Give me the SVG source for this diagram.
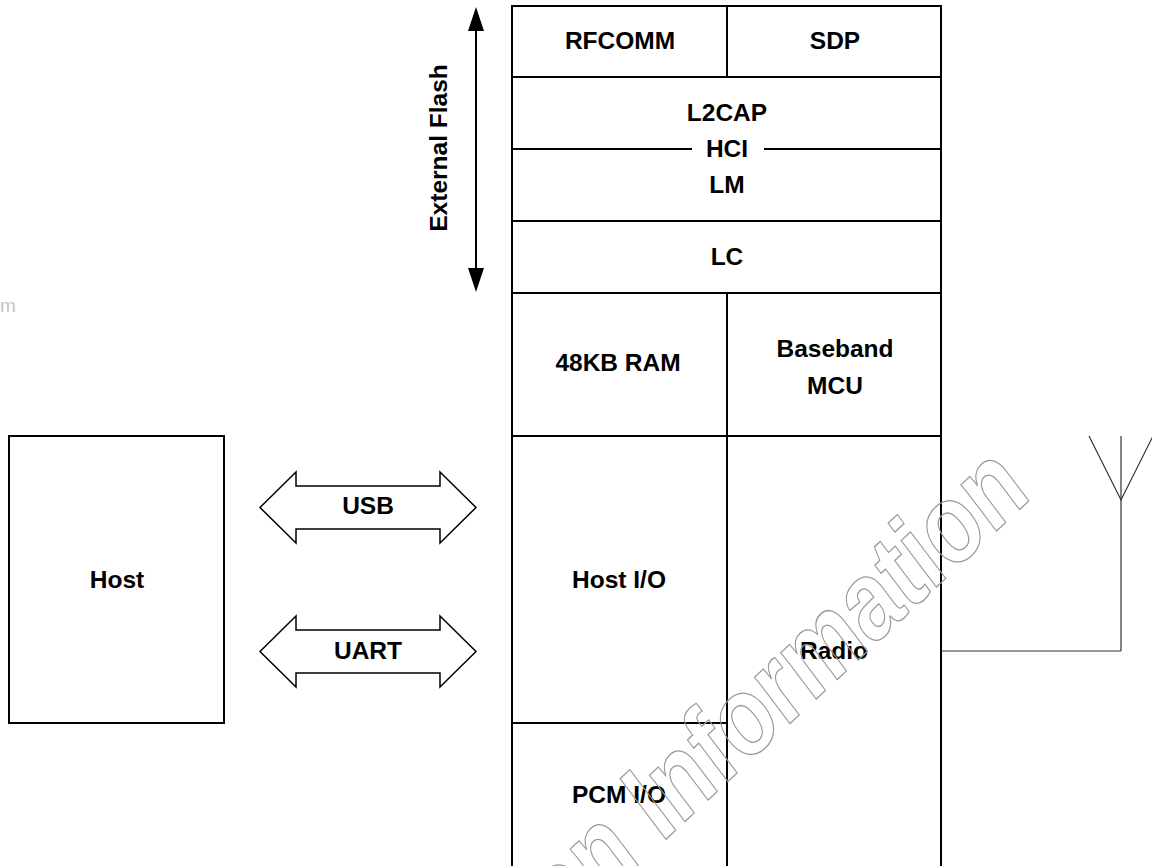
<svg xmlns="http://www.w3.org/2000/svg" width="1152" height="866" viewBox="0 0 1152 866">
<style>
  .cell { fill: #ffffff; stroke: #000000; stroke-width: 2; }
  .lbl { font-family: "Liberation Sans", Arial, sans-serif; font-weight: bold; font-size: 24.5px; fill: #000000; text-anchor: middle; }
  .bus { fill: #ffffff; stroke: #000000; stroke-width: 1.5; stroke-linejoin: miter; }
  .thin { fill: none; stroke: #333333; stroke-width: 1.2; }
  .wm { font-family: "Liberation Sans", Arial, sans-serif; font-weight: bold; font-size: 110px; fill: none; stroke: #9a9a9a; stroke-width: 1.3; text-anchor: end; }
</style>
<rect x="0" y="0" width="1152" height="866" fill="#ffffff"/>

<text x="0" y="312" font-family="Liberation Sans, Arial, sans-serif" font-size="19" fill="#c4c4c4">m</text>

<g id="host">
  <rect class="cell" x="9" y="436" width="215" height="287"/>
  <text class="lbl" x="117" y="588">Host</text>
</g>

<g id="usb">
  <polygon class="bus" points="260,507.5 296,472 296,486 440,486 440,472 476,507.5 440,543 440,529 296,529 296,543"/>
  <text class="lbl" x="368" y="514">USB</text>
</g>

<g id="uart">
  <polygon class="bus" points="260,651.5 296,616 296,630 440,630 440,616 476,651.5 440,687 440,673 296,673 296,687"/>
  <text class="lbl" x="368" y="659">UART</text>
</g>

<g id="rfcomm">
  <rect class="cell" x="512" y="6" width="215" height="71"/>
  <text class="lbl" x="620" y="49">RFCOMM</text>
</g>
<g id="sdp">
  <rect class="cell" x="727" y="6" width="214" height="71"/>
  <text class="lbl" x="835" y="49">SDP</text>
</g>
<g id="l2cap-hci-lm">
  <rect class="cell" x="512" y="77" width="429" height="144"/>
  <line x1="512" y1="149" x2="692" y2="149" stroke="#000" stroke-width="2"/>
  <line x1="764" y1="149" x2="941" y2="149" stroke="#000" stroke-width="2"/>
  <text class="lbl" x="727" y="121">L2CAP</text>
  <text class="lbl" x="727" y="157">HCI</text>
  <text class="lbl" x="727" y="193">LM</text>
</g>
<g id="lc">
  <rect class="cell" x="512" y="221" width="429" height="72"/>
  <text class="lbl" x="727" y="265">LC</text>
</g>
<g id="ram">
  <rect class="cell" x="512" y="293" width="215" height="143"/>
  <text class="lbl" x="618" y="371">48KB RAM</text>
</g>
<g id="mcu">
  <rect class="cell" x="727" y="293" width="214" height="143"/>
  <text class="lbl" x="835" y="357">Baseband</text>
  <text class="lbl" x="835" y="394">MCU</text>
</g>
<g id="host-io">
  <rect class="cell" x="512" y="436" width="215" height="287"/>
  <text class="lbl" x="619" y="588">Host I/O</text>
</g>
<g id="pcm-io">
  <rect class="cell" x="512" y="723" width="215" height="150"/>
  <text class="lbl" x="619" y="803">PCM I/O</text>
</g>
<g id="radio">
  <rect class="cell" x="727" y="436" width="214" height="437"/>
  <text class="lbl" x="834" y="659">Radio</text>
</g>

<g id="external-flash">
  <text class="lbl" transform="translate(447,148) rotate(-90)" x="0" y="0">External Flash</text>
</g>

<g id="antenna">
  <polyline class="thin" points="1089,436 1121,500 1153,436"/>
  <line class="thin" x1="1121" y1="436" x2="1121" y2="651"/>
</g>

<g id="connectors">
  <line x1="476" y1="28" x2="476" y2="271" stroke="#000" stroke-width="2"/>
  <polygon points="476,7 468,31 484,31" fill="#000"/>
  <polygon points="476,292 468,268 484,268" fill="#000"/>
  <line class="thin" x1="941" y1="651" x2="1121" y2="651"/>
</g>

<g id="watermark" transform="translate(1033,497) rotate(-43) scale(0.84,1) skewX(-7)">
  <text class="wm" x="0" y="0">Information</text>
  <text class="wm" x="-636" y="0">on</text>
</g>
</svg>
